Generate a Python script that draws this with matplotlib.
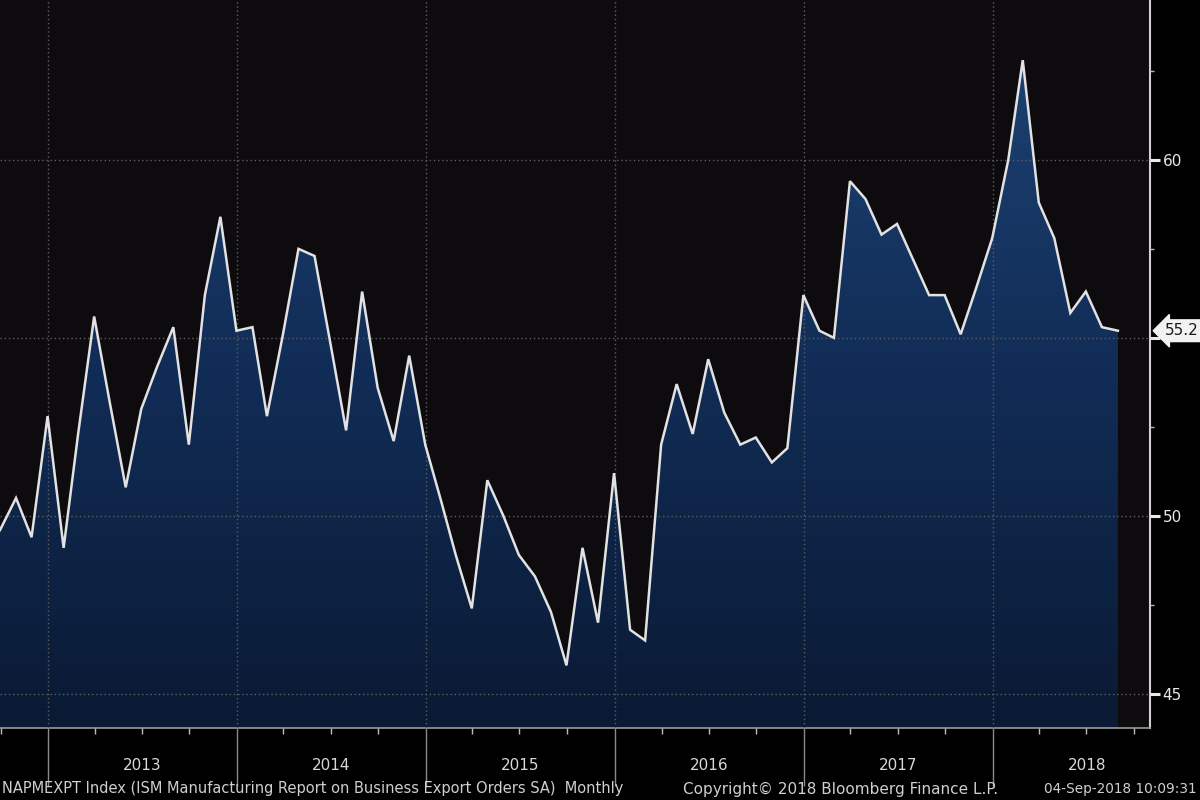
import numpy as np
import pandas as pd
import matplotlib
matplotlib.use("Agg")
import matplotlib.pyplot as plt
import matplotlib.dates as mdates
import matplotlib.transforms as mtransforms
from matplotlib.colors import LinearSegmentedColormap
from matplotlib.patches import Polygon

# ---- data (monthly, month-end, Sep 2012 .. Aug 2018) ----
start_month = "2012-10-01"
end_month = "2018-09-01"
values = [
    49.6, 50.5, 49.4, 52.8,                                                # 2012 Sep-Dec
    49.1, 52.3, 55.6, 53.2, 50.8, 53.0, 54.2, 55.3, 52.0, 56.2, 58.4, 55.2,  # 2013
    55.3, 52.8, 55.1, 57.5, 57.3, 54.9, 52.4, 56.3, 53.6, 52.1, 54.5, 52.0,  # 2014
    50.4, 48.9, 47.4, 51.0, 50.0, 48.9, 48.3, 47.3, 45.8, 49.1, 47.0, 51.2,  # 2015
    46.8, 46.5, 52.0, 53.7, 52.3, 54.4, 52.9, 52.0, 52.2, 51.5, 51.9, 56.2,  # 2016
    55.2, 55.0, 59.4, 58.9, 57.9, 58.2, 57.2, 56.2, 56.2, 55.1, 56.4, 57.8,  # 2017
    60.0, 62.8, 58.8, 57.8, 55.7, 56.3, 55.3, 55.2,                          # 2018 Jan-Aug
]
year_labels = ["2013", "2014", "2015", "2016", "2017", "2018"]
ytick_values = [45, 50, 55, 60]
ytick_labels = ["45", "50", "", "60"]
last_label = "55.2"
footer_left = "NAPMEXPT Index (ISM Manufacturing Report on Business Export Orders SA)  Monthly"
footer_mid = "Copyright\u00a9 2018 Bloomberg Finance L.P."
footer_right = "04-Sep-2018 10:09:31"

dates = pd.date_range(start_month, end_month, freq="MS") - pd.Timedelta(days=1)
x = mdates.date2num(dates.to_pydatetime())
y = np.array(values)

# ---- figure ----
fig = plt.figure(figsize=(12, 8), dpi=100, facecolor="black")
ax = fig.add_axes([0.0, 0.09, 1150 / 1200, 0.91])
ax.set_facecolor("#0d0b0e")

ymin, ymax = 44.04, 64.49
xmin = mdates.date2num(pd.Timestamp("2012-09-30"))
xmax = mdates.date2num(pd.Timestamp("2018-11-01"))
ax.set_xlim(xmin, xmax)
ax.set_ylim(ymin, ymax)

# gradient fill below the line
cmap = LinearSegmentedColormap.from_list("bbg", ["#0a1a34", "#112d57", "#1f4475"])
grad = np.linspace(0, 1, 256).reshape(-1, 1)
im = ax.imshow(grad, extent=[x[0], x[-1], ymin, ymax], origin="lower",
               aspect="auto", cmap=cmap, zorder=1)
verts = np.vstack([np.column_stack([x, y]), [[x[-1], ymin], [x[0], ymin]]])
poly = Polygon(verts, closed=True, facecolor="none", edgecolor="none")
ax.add_patch(poly)
im.set_clip_path(poly)
ax.set_xlim(xmin, xmax)
ax.set_ylim(ymin, ymax)

ax.plot(x, y, color="#e2e2e2", lw=1.8, zorder=3, solid_joinstyle="miter")

# ---- axes styling ----
for s in ["left", "top"]:
    ax.spines[s].set_visible(False)
ax.spines["right"].set_color("#d0d0d0")
ax.spines["right"].set_linewidth(1.5)
ax.spines["bottom"].set_color("#9a9a9a")
ax.spines["bottom"].set_linewidth(1.2)

ax.yaxis.tick_right()
ax.set_yticks(ytick_values)
ax.set_yticklabels(ytick_labels)
ax.set_yticks([47.5, 52.5, 57.5, 62.5], minor=True)
ax.tick_params(axis="y", which="major", length=7, width=2.2, colors="#e8e8e8",
               labelsize=11, pad=2, direction="out")
ax.tick_params(axis="y", which="minor", length=3, width=1, colors="#bbbbbb")

ax.xaxis.set_major_locator(mdates.YearLocator())
ax.xaxis.set_minor_locator(mdates.MonthLocator(bymonth=[4, 7, 10]))
ax.xaxis.set_major_formatter(plt.NullFormatter())
ax.tick_params(axis="x", which="major", length=42, width=1, colors="#8a8a8a", direction="out")
ax.tick_params(axis="x", which="minor", length=4, width=1, colors="#bdbdbd", direction="out")

ax.set_axisbelow(False)
ax.grid(True, which="major", color="#5e5e5e", linestyle=(0, (1, 2)), lw=1.0)

# last-value tag
trans = mtransforms.blended_transform_factory(ax.transAxes, ax.transData)
ax.text(1.013, y[-1], last_label, transform=trans, ha="left", va="center",
        fontsize=11, color="#1a1a1a", clip_on=False, zorder=5,
        bbox=dict(boxstyle="larrow,pad=0.22", fc="#f2f2f2", ec="#f2f2f2"))

# year labels
ftrans = mtransforms.blended_transform_factory(ax.transData, fig.transFigure)
for lab in year_labels:
    xm = mdates.date2num(pd.Timestamp(f"{lab}-07-02"))
    ax.text(xm, 1 - 766 / 800, lab, transform=ftrans, ha="center", va="center",
            fontsize=11, color="#d8d8d8", clip_on=False)

# footer
fy = 1 - 789 / 800
fig.text(0.002, fy, footer_left, ha="left", va="center", fontsize=10.5, color="#cfcfcf")
fig.text(683 / 1200, fy, footer_mid, ha="left", va="center", fontsize=11, color="#cfcfcf")
fig.text(0.997, fy, footer_right, ha="right", va="center", fontsize=9.8, color="#cfcfcf")

fig.savefig("out.png", dpi=100, facecolor="black")
